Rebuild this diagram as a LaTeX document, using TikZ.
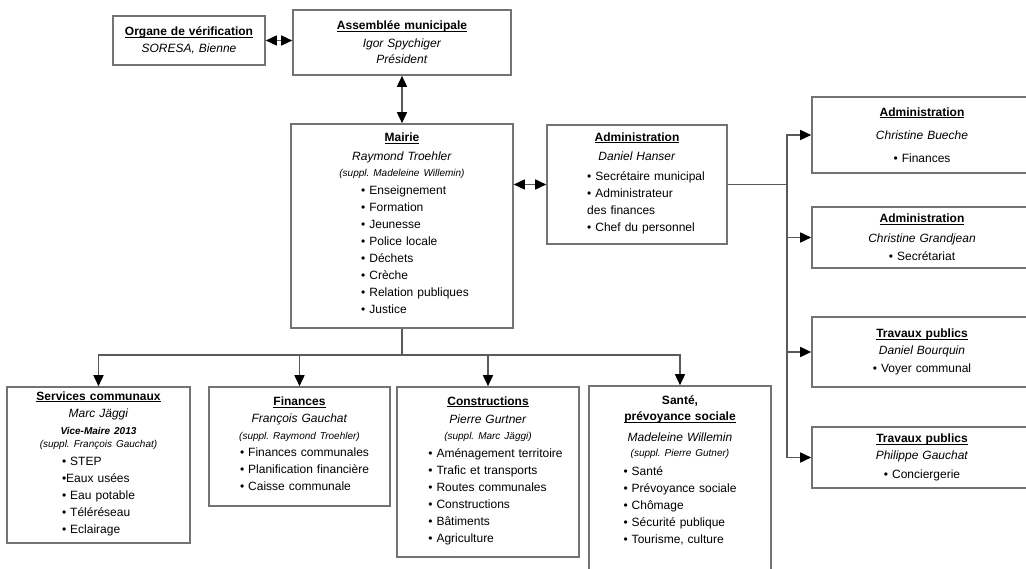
\documentclass[tikz,border=0pt]{standalone}
\usepackage{fontspec}
\setmainfont{Liberation Sans}
\usepackage{tikz}
\usetikzlibrary{positioning, arrows.meta}

\newcommand{\boxtitle}[1]{\underline{\smash{\textbf{#1}}}\vphantom{\textbf{#1}}}
\newcommand{\supptext}[1]{{\fontsize{10}{12}\selectfont\itshape(suppl.\ #1)}}

\begin{document}
\begin{tikzpicture}[x=1pt, y=-1pt, node distance=100pt,
	box/.style={draw=black!55, line width=1.6pt, rectangle, align=center, inner sep=4pt, font=\fontsize{12}{17}\selectfont},
	link/.style={draw=black!65, line width=1.6pt},
	>={Triangle[length=11pt, width=10pt, color=black]}]
	\path[use as bounding box, clip] (0,0) rectangle (1026,569);

	\node[box, minimum width=222pt, minimum height=204pt, text width=214pt] at (402,226) (mairie){\boxtitle{Mairie}\\[2pt]
		\textit{Raymond Troehler}\\[-1pt]
		\supptext{Madeleine Willemin}\\[1pt]
		\hspace*{26pt}\begin{tabular}[t]{@{}l@{}}\textbullet\ Enseignement\\ \textbullet\ Formation\\ \textbullet\ Jeunesse\\ \textbullet\ Police locale\\ \textbullet\ Déchets\\ \textbullet\ Crèche\\ \textbullet\ Relation publiques\\ \textbullet\ Justice\end{tabular}};

	\node[box, above of=mairie, yshift=83.5pt, minimum width=218pt, minimum height=65pt, text width=210pt] (assemblee){\boxtitle{Assemblée municipale}\\[1pt]
		\textit{Igor Spychiger}\\[-1pt]
		\textit{Président}};

	\node[box, left of=assemblee, xshift=-113pt, yshift=2pt, minimum width=152pt, minimum height=49pt, text width=144pt] (organe){\boxtitle{Organe de vérification}\\
		\textit{SORESA, Bienne}};

	\node[box, right of=mairie, xshift=135pt, yshift=41.5pt, minimum width=180pt, minimum height=119pt, text width=172pt] (admin){\boxtitle{Administration}\\[2pt]
		\textit{Daniel Hanser}\\[3pt]
		\hspace*{18pt}\begin{tabular}[t]{@{}l@{}}\textbullet\ Secrétaire municipal\\ \textbullet\ Administrateur\\ des finances\\ \textbullet\ Chef du personnel\end{tabular}};

	% colonne de droite
	\node[box, right of=admin, xshift=185pt, yshift=49.5pt, minimum width=220pt, minimum height=76pt, text width=212pt] (adminb){\boxtitle{Administration}\\[6pt]
		\textit{Christine Bueche}\\[6pt]
		\textbullet\ Finances};

	\node[box, below of=adminb, yshift=-2.5pt, minimum width=220pt, minimum height=61pt, text width=212pt] (adming){\boxtitle{Administration}\\[3pt]
		\textit{Christine Grandjean}\\[1pt]
		\textbullet\ Secrétariat};

	\node[box, below of=adming, yshift=-14.5pt, minimum width=220pt, minimum height=70pt, text width=212pt] (travb){\boxtitle{Travaux publics}\\
		\textit{Daniel Bourquin}\\[1pt]
		\textbullet\ Voyer communal};

	\node[box, below of=travb, yshift=-5.5pt, minimum width=220pt, minimum height=61pt, text width=212pt] (travg){\boxtitle{Travaux publics}\\
		\textit{Philippe Gauchat}\\[2pt]
		\textbullet\ Conciergerie};

	% dicasteres
	\node[box, below of=mairie, xshift=-102.5pt, yshift=-120.5pt, minimum width=181pt, minimum height=119pt, text width=173pt] (finances){\boxtitle{Finances}\\
		\textit{François Gauchat}\\
		\supptext{Raymond Troehler}\\
		\hspace*{10pt}\begin{tabular}[t]{@{}l@{}}\textbullet\ Finances communales\\ \textbullet\ Planification financière\\ \textbullet\ Caisse communale\end{tabular}};

	\node[box, left of=finances, xshift=-101pt, yshift=-18.5pt, minimum width=183pt, minimum height=156pt, text width=175pt] (services){\boxtitle{Services communaux}\\
		\textit{Marc Jäggi}\\
		{\fontsize{10}{12}\selectfont\bfseries\itshape Vice-Maire 2013}\\[-4pt]
		\supptext{François Gauchat}\\[1pt]
		\begin{tabular}[t]{@{}l@{}}\textbullet\ STEP\\ \textbullet Eaux usées\\ \textbullet\ Eau potable\\ \textbullet\ Téléréseau\\ \textbullet\ Eclairage\end{tabular}\hspace*{47pt}};

	\node[box, right of=finances, xshift=88.5pt, yshift=-25.5pt, minimum width=182pt, minimum height=170pt, text width=174pt] (constr){\boxtitle{Constructions}\\[1pt]
		\textit{Pierre Gurtner}\\[-1pt]
		\supptext{Marc Jäggi}\\[1pt]
		\hspace*{15pt}\begin{tabular}[t]{@{}l@{}}\textbullet\ Aménagement territoire\\ \textbullet\ Trafic et transports\\ \textbullet\ Routes communales\\ \textbullet\ Constructions\\ \textbullet\ Bâtiments\\ \textbullet\ Agriculture\end{tabular}};

	\node[box, right of=constr, xshift=92pt, yshift=-21pt, minimum width=182pt, minimum height=214pt, text width=174pt, text height=12pt, text depth=188pt] (sante){\textbf{Santé,}\\[-1pt]
		\boxtitle{prévoyance sociale}\\[4pt]
		\textit{Madeleine Willemin}\\[-2pt]
		\supptext{Pierre Gutner}\\[2pt]
		\begin{tabular}[t]{@{}l@{}}\textbullet\ Santé\\ \textbullet\ Prévoyance sociale\\ \textbullet\ Chômage\\ \textbullet\ Sécurité publique\\ \textbullet\ Tourisme, culture\end{tabular}\hspace*{11pt}};

	\coordinate[below of=mairie, yshift=-29pt] (split);
	\coordinate[right of=admin, xshift=50pt] (rsplit);

	\draw[link, <->] (organe.east) -- (organe.east -| assemblee.west);
	\draw[link, <->] (assemblee) -- (mairie);
	\draw[link, <->] (mairie.east |- admin) -- (admin);

	\draw[link] (mairie) -- (split);
	\draw[link, ->] (split) -| (services);
	\draw[link, ->] (split) -| (finances);
	\draw[link, ->] (split) -| (constr);
	\draw[link, ->] (split) -| (sante);

	\draw[link] (admin) -- (rsplit);
	\draw[link, ->] (rsplit) |- (adminb);
	\draw[link, ->] (rsplit) |- (adming);
	\draw[link, ->] (rsplit) |- (travb);
	\draw[link, ->] (rsplit) |- (travg);
\end{tikzpicture}
\end{document}
